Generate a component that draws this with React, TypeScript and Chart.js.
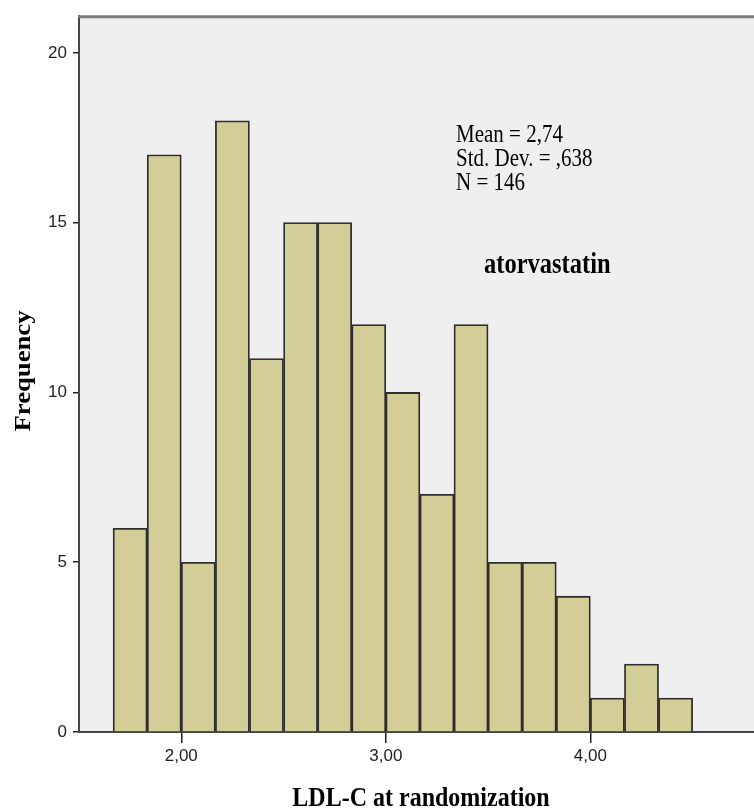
import React, { useEffect, useRef } from "react";
import { Chart, registerables } from "chart.js";

Chart.register(...registerables);

// Bin centres (bins of width 1/6 from 1.667 to 4.5)
const binCenters: number[] = [
  21 / 12, 23 / 12, 25 / 12, 27 / 12, 29 / 12, 31 / 12, 33 / 12, 35 / 12, 37 / 12,
  39 / 12, 41 / 12, 43 / 12, 45 / 12, 47 / 12, 49 / 12, 51 / 12, 53 / 12,
];
const frequencies: number[] = [6, 17, 5, 18, 11, 15, 15, 12, 10, 7, 12, 5, 5, 4, 1, 2, 1];
const statsLines: string[] = ["Mean = 2,74", "Std. Dev. = ,638", "N = 146"];
const groupLabel = "atorvastatin";
const xTitle = "LDL-C at randomization";
const yTitle = "Frequency";

const STRETCH = 1.16;

function stretchedText(
  ctx: CanvasRenderingContext2D,
  text: string,
  x: number,
  y: number,
  font: string,
  align: CanvasTextAlign,
  rotate = 0
) {
  ctx.save();
  ctx.translate(x, y);
  if (rotate) ctx.rotate(rotate);
  if (rotate) ctx.scale(STRETCH, 1);
  else ctx.scale(1, STRETCH);
  ctx.font = font;
  ctx.textAlign = align;
  ctx.textBaseline = "alphabetic";
  ctx.fillStyle = "#000";
  ctx.fillText(text, 0, 0);
  ctx.restore();
}

const decorPlugin = {
  id: "decor",
  beforeDraw(chart: any) {
    const { ctx, chartArea } = chart;
    ctx.save();
    ctx.fillStyle = "#ffffff";
    ctx.fillRect(0, 0, chart.width, chart.height);
    ctx.fillStyle = "#efefef";
    ctx.fillRect(chartArea.left, chartArea.top, chartArea.right - chartArea.left, chartArea.bottom - chartArea.top);
    ctx.restore();
  },
  afterDraw(chart: any) {
    const { ctx, chartArea } = chart;
    ctx.save();
    ctx.strokeStyle = "#7a7a7a";
    ctx.lineWidth = 3;
    ctx.beginPath();
    ctx.moveTo(chartArea.left - 1, chartArea.top + 0.5);
    ctx.lineTo(chartArea.right, chartArea.top + 0.5);
    ctx.stroke();
    ctx.restore();

    const serif = '"Liberation Serif", "Times New Roman", serif';
    statsLines.forEach((t, i) => {
      stretchedText(ctx, t, 456, 141.5 + i * 24, `21px ${serif}`, "left");
    });
    stretchedText(ctx, groupLabel, 484, 273, `bold 24.5px ${serif}`, "left");
    stretchedText(ctx, xTitle, 421, 806, `bold 24px ${serif}`, "center");
    stretchedText(ctx, yTitle, 30, 371, `bold 23px ${serif}`, "center", -Math.PI / 2);
  },
};

export default function App() {
  const canvasRef = useRef<HTMLCanvasElement | null>(null);

  useEffect(() => {
    document.body.style.margin = "0";
    const canvas = canvasRef.current;
    if (!canvas) return;
    const chart = new Chart(canvas, {
      type: "bar",
      data: {
        datasets: [
          {
            data: binCenters.map((x, i) => ({ x, y: frequencies[i] })),
            backgroundColor: "#d3ce97",
            borderColor: "#2e2e2e",
            borderWidth: 1.8,
            barPercentage: 1,
            categoryPercentage: 1,
          },
        ],
      },
      options: {
        animation: false,
        responsive: false,
        maintainAspectRatio: false,
        layout: { padding: { top: 14, right: 0, left: 0, bottom: 0 } },
        plugins: {
          legend: { display: false },
          tooltip: { enabled: false },
        },
        scales: {
          x: {
            type: "linear",
            min: 1.5,
            max: 4.8,
            offset: false,
            grid: {
              offset: false,
              drawOnChartArea: false,
              drawTicks: true,
              tickLength: 11,
              color: "#222",
              lineWidth: 1.5,
            },
            border: { display: true, color: "#444", width: 2 },
            ticks: {
              stepSize: 1,
              includeBounds: false,
              padding: 3,
              color: "#222",
              font: { family: '"Liberation Sans", Arial, sans-serif', size: 17 },
              callback: (v: any) => Number(v).toFixed(2).replace(".", ","),
              maxRotation: 0,
            },
            afterFit: (scale: any) => {
              scale.height = 76;
            },
          },
          y: {
            type: "linear",
            min: 0,
            max: 21.08,
            grid: {
              drawOnChartArea: false,
              drawTicks: true,
              tickLength: 6,
              color: "#222",
              lineWidth: 1.5,
            },
            border: { display: true, color: "#444", width: 2 },
            ticks: {
              stepSize: 5,
              includeBounds: false,
              padding: 6,
              color: "#222",
              font: { family: '"Liberation Sans", Arial, sans-serif', size: 17 },
            },
            afterFit: (scale: any) => {
              scale.width = 79;
            },
          },
        },
      },
      plugins: [decorPlugin],
    } as any);
    return () => chart.destroy();
  }, []);

  return (
    <div style={{ width: 754, height: 808 }}>
      <canvas ref={canvasRef} width={754} height={808} style={{ display: "block", width: 754, height: 808 }} />
    </div>
  );
}
